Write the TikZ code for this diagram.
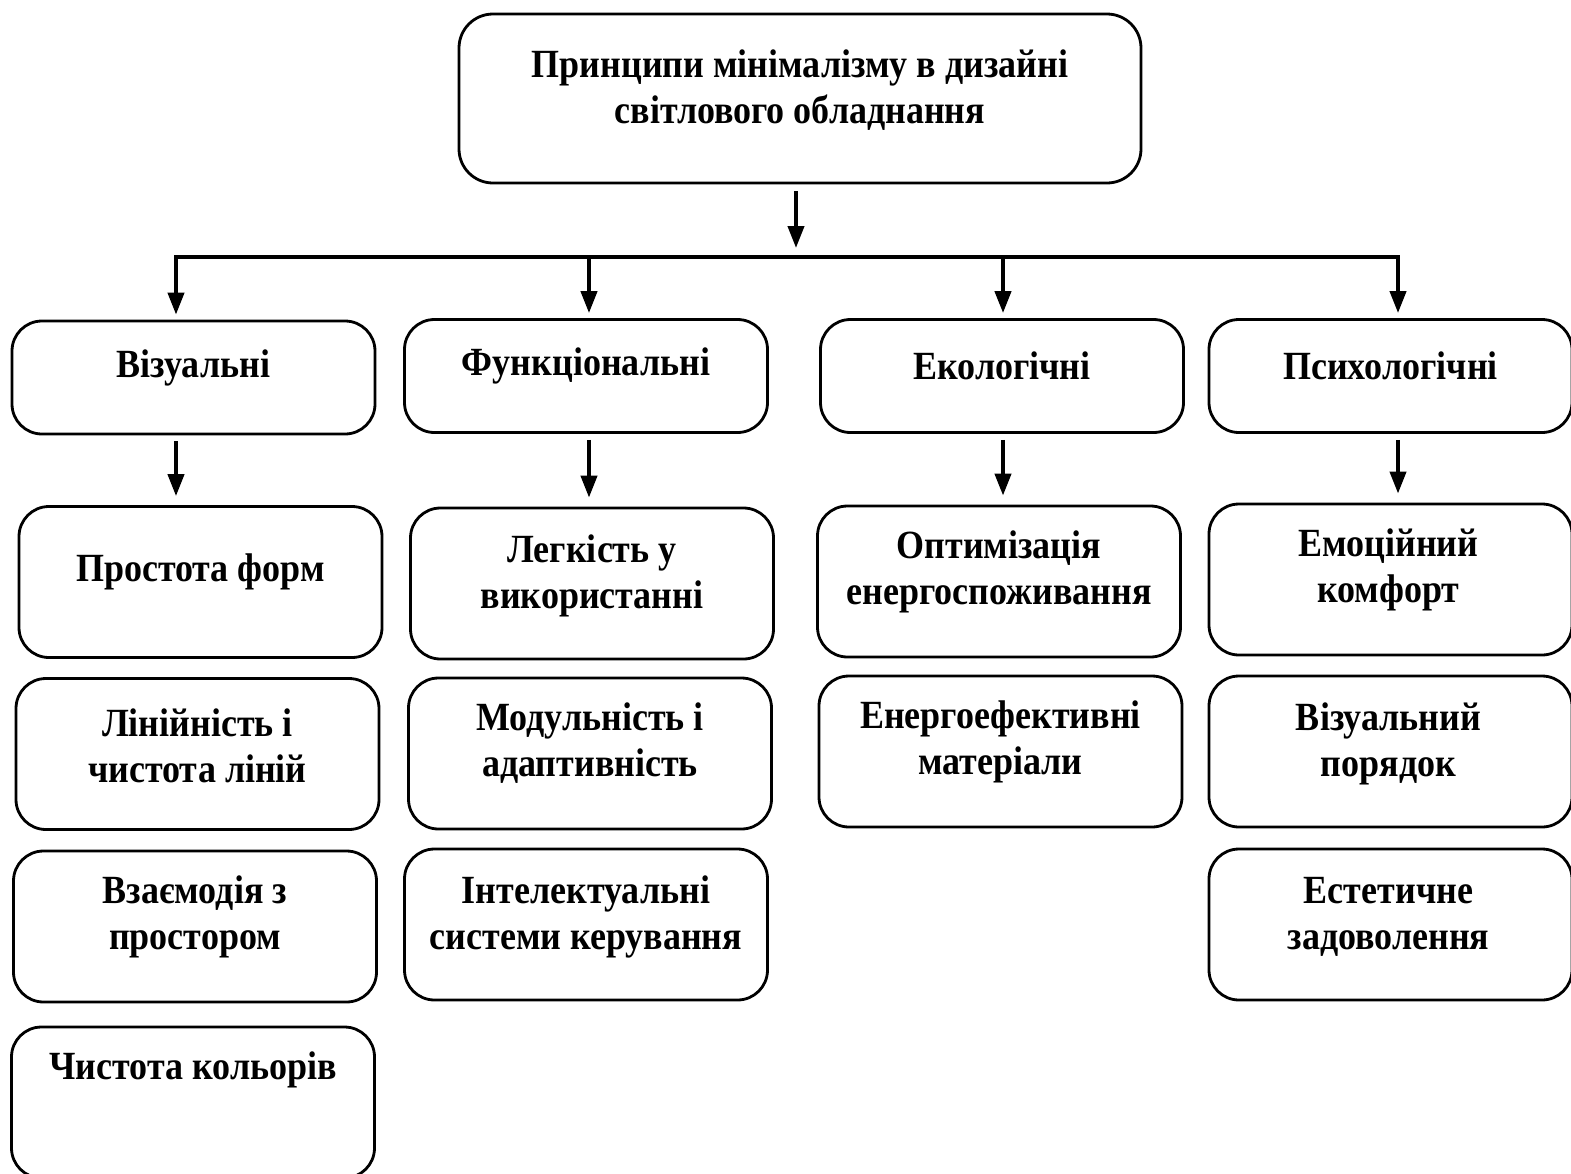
\documentclass[tikz,border=0pt]{standalone}
\usepackage{fontspec}
\setmainfont{Liberation Serif}[FakeStretch=0.9]
\usepackage{tikz}
\usetikzlibrary{arrows.meta,positioning}
\tikzset{
    box/.style={draw,rounded corners=15pt,line width=1.4pt,minimum width=181.5pt,minimum height=75.5pt,inner sep=0pt},
    headbox/.style={box,minimum height=56.5pt},
    topbox/.style={box,rounded corners=17pt,minimum width=341pt,minimum height=84.5pt},
    lbl/.style={align=center,inner sep=0pt},
    arr/.style={-{Triangle[length=11pt,width=8pt]},line width=2pt},
    busline/.style={line width=2pt,line cap=rect},
}
\tikzstyle{every node}=[font=\fontsize{20pt}{23pt}\selectfont\bfseries]

\begin{document}
\begin{tikzpicture}[x=0.5pt,y=-0.5pt]
    \useasboundingbox (0,0) rectangle (1571,1174);
    % top
    \node[topbox] (top) at (800,98.5) {};
    \node[lbl] (ttop) at ([yshift=4pt]top.center) {Принципи мінімалізму в дизайні\\світлового обладнання};
    % groups
    \node[headbox] (vis) at (193.5,377.5) {};
    \node[headbox] (func) at (586,376) {};
    \node[headbox] (eco) at (1002,376) {};
    \node[headbox] (psy) at (1390.5,376) {};
    \node[lbl] (tvis) at ([yshift=5pt]vis.center) {Візуальні};
    \node[lbl] (tfunc) at ([yshift=5pt]func.center) {Функціональні};
    \node[lbl] (teco) at ([yshift=5pt]eco.center) {Екологічні};
    \node[lbl] (tpsy) at ([yshift=5pt]psy.center) {Психологічні};
    % visual
    \node[box] (vis1) at (200.5,582) {};
    \node[box] (vis2) at (197.5,754) {};
    \node[box] (vis3) at (195,926.5) {};
    \node[box] (vis4) at (193,1102.5) {};
    \node[lbl] (tvis1) at ([yshift=5pt]vis1.center) {Простота форм};
    \node[lbl] (tvis2) at ([yshift=4pt]vis2.center) {Лінійність і\\чистота ліній};
    \node[lbl] (tvis3) at ([yshift=5pt]vis3.center) {Взаємодія з\\простором};
    \node[lbl] (tvis4) at (193,1070) {Чистота кольорів};
    % functional
    \node[box] (func1) at (592,583.5) {};
    \node[box] (func2) at (590,753.5) {};
    \node[box] (func3) at (586,924.5) {};
    \node[lbl] (tfunc1) at ([yshift=4pt]func1.center) {Легкість у\\використанні};
    \node[lbl] (tfunc2) at ([yshift=5pt]func2.center) {Модульність і\\адаптивність};
    \node[lbl] (tfunc3) at ([yshift=4pt]func3.center) {Інтелектуальні\\системи керування};
    % ecological
    \node[box] (eco1) at (999,581.5) {};
    \node[box] (eco2) at (1000.5,751.5) {};
    \node[lbl] (teco1) at ([yshift=5pt]eco1.center) {Оптимізація\\енергоспоживання};
    \node[lbl] (teco2) at ([yshift=5pt]eco2.center) {Енергоефективні\\матеріали};
    % psychological
    \node[box] (psy1) at (1390.5,579.5) {};
    \node[box] (psy2) at (1390.5,751.5) {};
    \node[box] (psy3) at (1390.5,924.5) {};
    \node[lbl] (tpsy1) at ([xshift=-1pt,yshift=5pt]psy1.center) {Емоційний\\комфорт};
    \node[lbl] (tpsy2) at ([xshift=-1pt,yshift=4pt]psy2.center) {Візуальний\\порядок};
    \node[lbl] (tpsy3) at ([xshift=-1pt,yshift=4pt]psy3.center) {Естетичне\\задоволення};
    % connectors
    \coordinate (bus) at (796,257);
    \coordinate (b1) at (176,257);
    \coordinate (b2) at (589,257);
    \coordinate (b3) at (1003,257);
    \coordinate (b4) at (1398,257);
    \draw[arr,shorten <=3.5pt,shorten >=4.5pt] (top.south -| bus) -- (bus);
    \draw[busline] (b1) -- (b4);
    \foreach \b/\g in {b1/vis,b2/func,b3/eco,b4/psy}
        \draw[arr,shorten >=2.5pt] (\b) -- (\b |- \g.north);
    \draw[arr,shorten <=3pt,shorten >=4.5pt] (vis.south -| b1) -- (vis1.north -| b1);
    \draw[arr,shorten <=3pt,shorten >=4.5pt] (func.south -| b2) -- (func1.north -| b2);
    \draw[arr,shorten <=3pt,shorten >=4.5pt] (eco.south -| b3) -- (eco1.north -| b3);
    \draw[arr,shorten <=3pt,shorten >=4.5pt] (psy.south -| b4) -- (psy1.north -| b4);
\end{tikzpicture}
\end{document}
